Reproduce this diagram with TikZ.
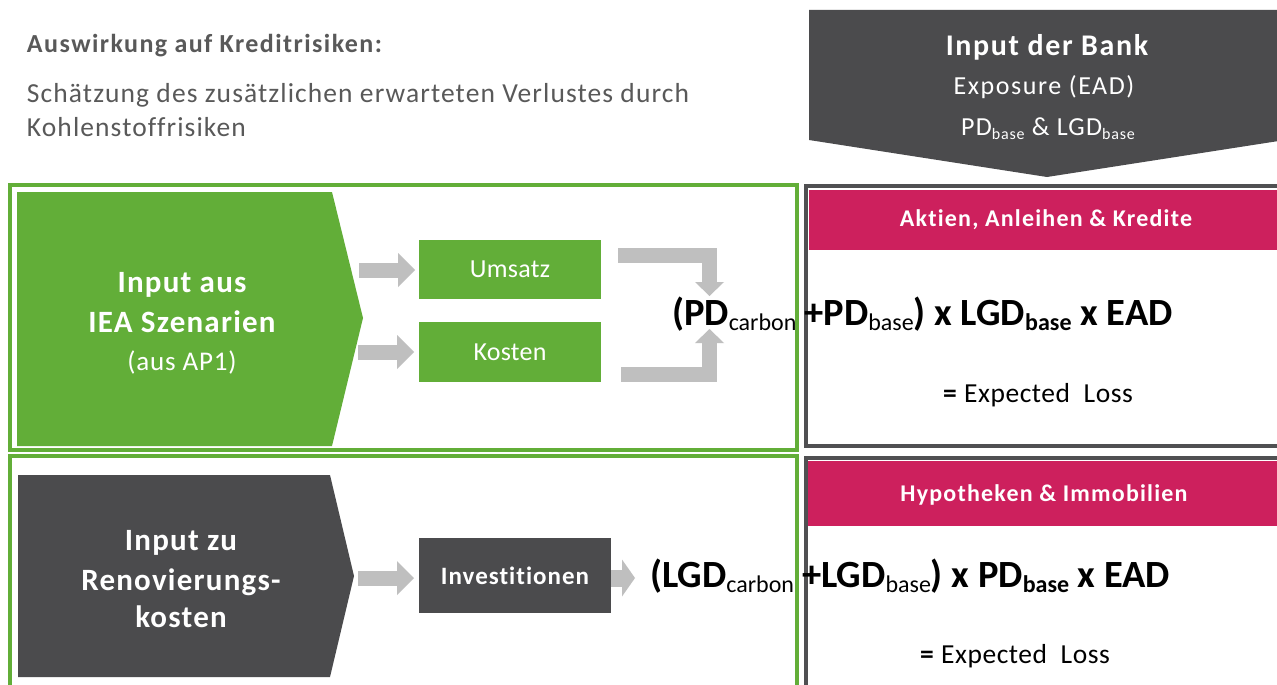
\documentclass[tikz,border=0pt]{standalone}
\usepackage{fontspec}
\setmainfont{Carlito}[Ligatures=NoCommon]
\usetikzlibrary{arrows.meta}
\definecolor{cgreen}{RGB}{98,174,56}
\definecolor{cdark}{RGB}{75,75,77}
\definecolor{carrow}{RGB}{191,191,191}
\definecolor{cmag}{RGB}{205,32,93}
\definecolor{ctxt}{RGB}{89,89,89}
\definecolor{cframe}{RGB}{80,80,82}
\newcommand\fsz[2]{\fontsize{#1}{#2}\selectfont}
\newcommand\lsp[1]{\addfontfeatures{LetterSpace=#1}}
\newcommand\fsub[1]{\raisebox{-5pt}{\fontsize{24}{24}\selectfont #1}}
\newcommand\ssub[1]{\raisebox{-4pt}{\fontsize{16}{16}\selectfont #1}}
\begin{document}
\begin{tikzpicture}[x=1pt,y=-1pt,
  every node/.style={inner sep=0pt,outer sep=0pt},
  barrow/.style={draw=carrow,line width=15pt,line join=miter,-{Triangle[width=34pt,length=17pt,line width=0pt]}},
  sarrow/.style={draw=carrow,line width=17pt,-{Triangle[width=37pt,length=13pt,line width=0pt]}},
  wtxt/.style={text=white,anchor=base},
  gbox/.style={fill=cgreen,text=white,font=\fsz{26}{30}\lsp{1}},
  dbox/.style={fill=cdark,text=white,font=\fsz{25}{29}\bfseries\lsp{4}},
  gframe/.style={draw=cgreen,line width=3.5pt},
  dframe/.style={draw=cframe,line width=3.5pt},
  formula/.style={anchor=base west,text=black,font=\fsz{38.5}{44}\bfseries},
  eloss/.style={anchor=base,text=black,font=\fsz{27.5}{32}\lsp{2}},
  header/.style={wtxt,font=\fsz{24}{28}\bfseries\lsp{5}},
  chevbig/.style={wtxt,font=\fsz{31}{36}\bfseries\lsp{4}}]
\useasboundingbox (0,0) rectangle (1277,685);
\clip (0,0) rectangle (1277,685);
\fill[white] (0,0) rectangle (1277,685);

% heading texts
\node[anchor=base west,text=ctxt,font=\fsz{26}{30}\bfseries\lsp{5.5}] (title) at (27,53) {Auswirkung auf Kreditrisiken:};
\node[anchor=base west,text=ctxt,font=\fsz{27.5}{32}\lsp{4}] (desc1) at (27,102) {Schätzung des zusätzlichen erwarteten Verlustes durch};
\node[anchor=base west,text=ctxt,font=\fsz{27.5}{32}\lsp{4}] (desc2) at (27,136) {Kohlenstoffrisiken};

% bank input pentagon
\fill[cdark] (809,10) -- (1285,10) -- (1285,140) -- (1047,177) -- (809,140) -- cycle;
\node[wtxt,font=\fsz{30}{35}\bfseries\lsp{5.5}] (bank1) at (1047,56) {Input der Bank};
\node[wtxt,font=\fsz{26}{30}\lsp{6}] (bank2) at (1044,95) {Exposure (EAD)};
\node[wtxt,font=\fsz{26}{30}\lsp{5}] (bank3) at (1048,135) {PD\ssub{base} \& LGD\ssub{base}};

% right frames with headers
\draw[dframe] (806,186) rectangle (1300,446);
\fill[cmag] (809,190) rectangle (1300,250);
\node[header] (hdr1) at (1046,226) {Aktien, Anleihen \& Kredite};
\draw[dframe] (806,458) rectangle (1300,720);
\fill[cmag] (808,461) rectangle (1300,526);
\node[header] (hdr2) at (1044,501) {Hypotheken \& Immobilien};

% top section
\fill[cgreen] (17,192) -- (332,192) -- (363,318) -- (332,446) -- (17,446) -- cycle;
\node[chevbig] (in1a) at (182,292) {Input aus};
\node[chevbig] (in1b) at (182,332) {IEA Szenarien};
\node[wtxt,font=\fsz{27}{32}\lsp{3}] (in1c) at (182,370) {(aus AP1)};
\node[gbox,minimum width=182pt,minimum height=59pt] (ums) at (510,269.5) {Umsatz};
\node[gbox,minimum width=182pt,minimum height=60pt] (kos) at (510,352) {Kosten};
\coordinate (a1s) at (359,270);
\coordinate (a2s) at (358,352);
\draw[barrow,shorten >=4pt] (a1s) -- (ums.west |- a1s);
\draw[barrow,shorten >=5pt] (a2s) -- (kos.west |- a2s);
\coordinate (b1s) at (618,255);
\coordinate (b1e) at (709.5,296);
\coordinate (b2s) at (621,374);
\coordinate (b2e) at (709.5,329);
\draw[barrow,-{Triangle[width=29pt,length=14pt,line width=0pt]}] (b1s) -| (b1e);
\draw[barrow,-{Triangle[width=29pt,length=14pt,line width=0pt]}] (b2s) -| (b2e);
\node[formula] (f1) at (672,325) {(PD\fsub{\mdseries carbon}\kern8pt+PD\fsub{\mdseries base}) x LGD\fsub{base} x EAD};
\node[eloss] (el1) at (1038,402) {\textbf{=} Expected\ \ Loss};

% bottom section
\fill[cdark] (18,475) -- (330,475) -- (354,576) -- (330,677) -- (18,677) -- cycle;
\node[chevbig] (in2a) at (181,550) {Input zu};
\node[chevbig] (in2b) at (181,590) {Renovierungs-};
\node[chevbig] (in2c) at (181,627) {kosten};
\node[dbox,minimum width=192pt,minimum height=75pt] (inv) at (515,575.5) {Investitionen};
\coordinate (a3s) at (358,578);
\draw[barrow,shorten >=5pt] (a3s) -- (inv.west |- a3s);
\coordinate (a4e) at (635,578);
\draw[sarrow] (inv.east |- a4e) -- (a4e);
\node[formula] (f2) at (650,587) {(LGD\fsub{\mdseries carbon}\kern8pt+LGD\fsub{\mdseries base}) x PD\fsub{base} x EAD};
\node[eloss] (el2) at (1015,663) {\textbf{=} Expected\ \ Loss};

% green frames
\draw[gframe] (10,185) rectangle (797,450);
\draw[gframe] (10,456) rectangle (797,720);
\end{tikzpicture}
\end{document}
